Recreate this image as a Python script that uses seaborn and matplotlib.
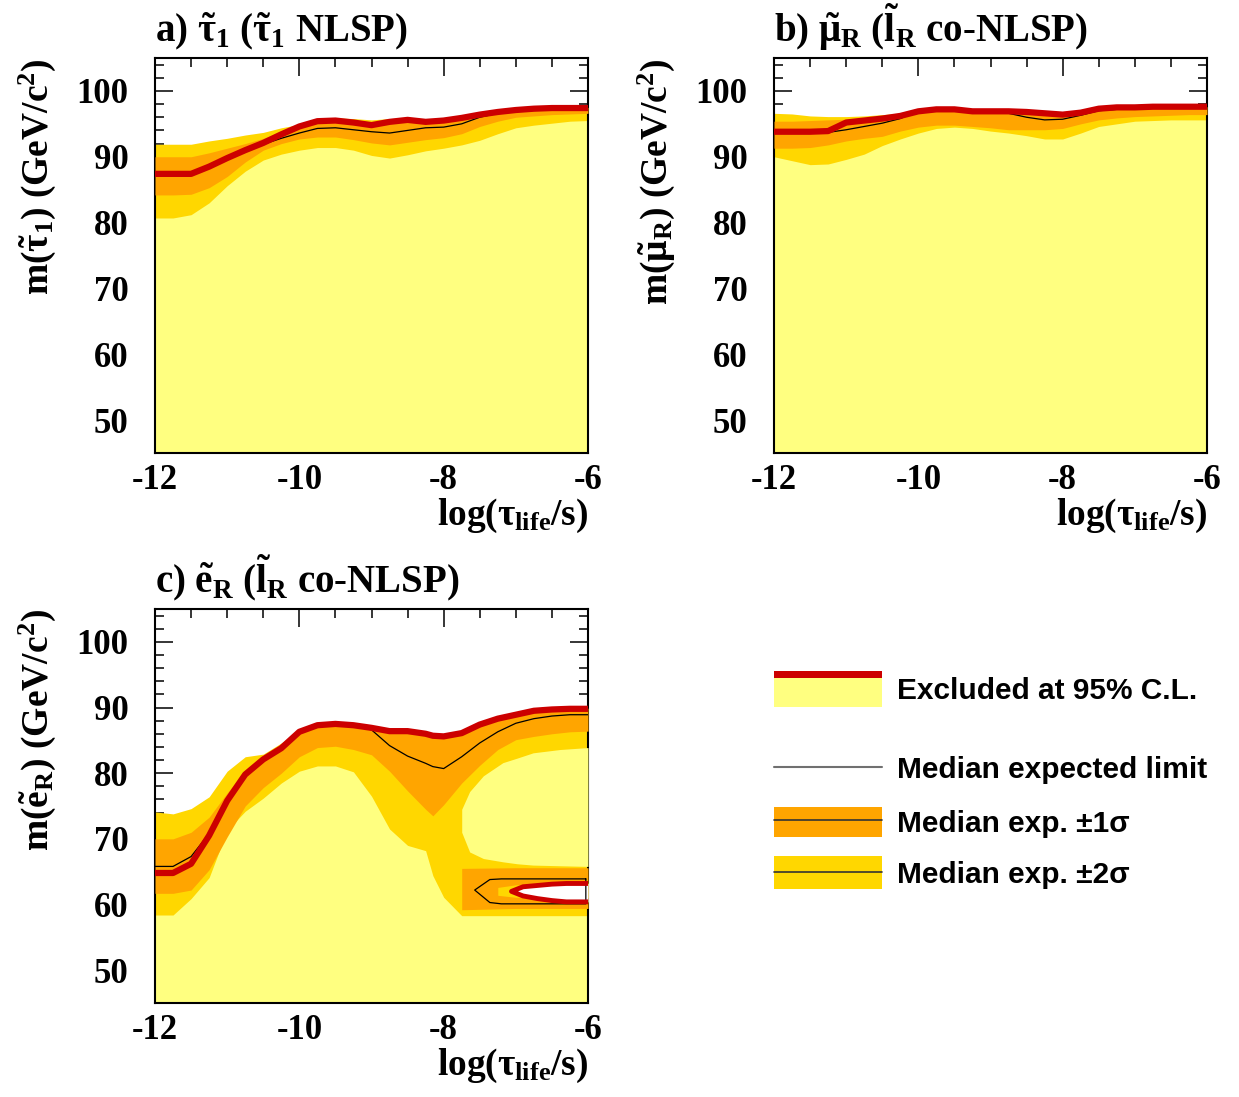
import matplotlib
matplotlib.use("Agg")
import matplotlib.pyplot as plt
from matplotlib.patches import Rectangle
from matplotlib.ticker import MultipleLocator
import seaborn as sns

# ---------------- data ----------------
# common log(tau/s) grid for panels a) and b)
x_ab = [-12, -11.75, -11.5, -11.25, -11, -10.75, -10.5, -10.25, -10, -9.75, -9.5, -9.25,
        -9, -8.75, -8.5, -8.25, -8, -7.75, -7.5, -7.25, -7, -6.75, -6.5, -6.25, -6]

# a) stau
a_obs = [87.4, 87.4, 87.4, 88.5, 89.8, 91.0, 92.1, 93.4, 94.6, 95.4, 95.5, 95.2,
         94.8, 95.3, 95.6, 95.3, 95.5, 95.9, 96.4, 96.8, 97.1, 97.3, 97.4, 97.4, 97.4]
a_med = [87.5, 87.5, 87.6, 88.5, 89.7, 90.9, 91.9, 92.8, 93.6, 94.3, 94.4, 94.1,
         93.8, 93.6, 94.0, 94.4, 94.5, 95.0, 96.0, 96.6, 97.0, 97.2, 97.3, 97.3, 97.3]
a_s1_hi = [90.0, 90.0, 90.0, 90.6, 91.3, 92.0, 92.8, 93.8, 94.8, 95.4, 95.6, 95.4,
           95.1, 95.5, 95.7, 95.5, 95.6, 96.0, 96.5, 96.9, 97.2, 97.4, 97.5, 97.5, 97.5]
a_s1_lo = [84.2, 84.2, 84.3, 85.3, 87.0, 89.2, 91.0, 92.0, 92.7, 93.0, 93.0, 92.6,
           92.1, 91.8, 92.2, 92.6, 92.9, 93.5, 94.6, 95.4, 96.0, 96.2, 96.4, 96.5, 96.6]
a_s2_hi = [91.9, 91.9, 91.9, 92.4, 92.8, 93.3, 93.7, 94.4, 94.9, 95.5, 95.9, 95.8,
           95.6, 95.8, 95.9, 95.7, 95.8, 96.2, 96.6, 97.0, 97.3, 97.5, 97.6, 97.6, 97.6]
a_s2_lo = [80.7, 80.7, 81.2, 83.0, 85.6, 87.8, 89.5, 90.4, 91.0, 91.4, 91.4, 91.0,
           90.2, 89.8, 90.3, 90.9, 91.3, 91.8, 92.5, 93.5, 94.4, 94.8, 95.1, 95.4, 95.5]

# b) smuon
b_obs = [93.8, 93.8, 93.8, 93.9, 95.2, 95.5, 95.8, 96.2, 96.9, 97.2, 97.2, 96.9,
         96.9, 96.9, 96.8, 96.6, 96.4, 96.7, 97.3, 97.5, 97.5, 97.6, 97.6, 97.6, 97.6]
b_med = [93.6, 93.6, 93.6, 93.7, 94.1, 94.6, 95.1, 95.8, 97.0, 97.1, 97.1, 96.9,
         96.8, 96.6, 96.0, 95.6, 95.7, 96.3, 97.0, 97.2, 97.3, 97.4, 97.5, 97.5, 97.5]
b_s1_hi = [95.4, 95.4, 95.5, 95.6, 95.7, 95.8, 96.0, 96.3, 96.9, 97.2, 97.2, 96.9,
           96.9, 96.9, 96.8, 96.6, 96.4, 96.7, 97.3, 97.5, 97.5, 97.6, 97.6, 97.6, 97.6]
b_s1_lo = [91.3, 91.3, 91.4, 91.8, 92.4, 92.8, 93.1, 93.9, 94.5, 94.8, 94.8, 94.6,
           94.4, 94.1, 94.1, 94.1, 94.3, 95.0, 95.6, 95.9, 96.1, 96.2, 96.3, 96.4, 96.4]
b_s2_hi = [96.6, 96.5, 96.2, 96.1, 96.1, 96.2, 96.4, 96.6, 97.0, 97.3, 97.3, 97.1,
           97.0, 97.0, 96.9, 96.8, 96.6, 96.9, 97.4, 97.6, 97.6, 97.7, 97.7, 97.7, 97.7]
b_s2_lo = [90.0, 89.4, 88.8, 88.9, 89.6, 90.4, 91.7, 92.7, 93.6, 94.3, 94.5, 94.3,
           93.9, 93.6, 93.2, 92.7, 92.7, 93.6, 94.6, 95.0, 95.4, 95.5, 95.6, 95.6, 95.6]

# c) selectron
x_c = [-12, -11.75, -11.5, -11.25, -11, -10.75, -10.5, -10.25, -10, -9.75, -9.5, -9.25,
       -9, -8.75, -8.5, -8.25, -8.15, -8, -7.75, -7.5, -7.25, -7, -6.75, -6.5, -6.25, -6]
c_obs = [64.8, 64.8, 66.2, 70.5, 75.8, 79.8, 82.1, 83.8, 86.3, 87.3, 87.5, 87.3,
         86.9, 86.4, 86.4, 86.0, 85.7, 85.6, 86.1, 87.4, 88.3, 88.9, 89.5, 89.7, 89.8, 89.8]
c_med = [65.8, 65.8, 67.3, 70.8, 75.9, 79.8, 82.0, 83.7, 86.2, 87.2, 87.4, 87.2,
         86.6, 84.2, 82.6, 81.5, 81.0, 80.7, 82.5, 84.6, 86.3, 87.6, 88.3, 88.7, 88.9, 88.9]
c_s1_hi = [70.0, 70.0, 71.0, 73.3, 77.0, 80.4, 82.4, 84.1, 86.5, 87.4, 87.6, 87.4,
           87.0, 86.5, 86.5, 86.1, 85.8, 85.7, 86.2, 87.5, 88.4, 89.0, 89.6, 89.8, 89.9, 89.9]
c_s1_lo = [61.7, 61.7, 62.2, 65.3, 70.3, 75.0, 77.8, 80.0, 82.5, 83.9, 84.1, 83.6,
           82.8, 80.3, 77.3, 74.5, 73.5, 75.2, 78.5, 81.2, 83.6, 85.1, 85.6, 86.0, 86.3, 86.4]
c_s2_hi = [74.1, 73.8, 74.6, 76.4, 80.3, 82.5, 82.9, 84.6, 86.5, 87.4, 87.6, 87.4,
           87.0, 86.5, 86.5, 86.1, 85.8, 85.7, 86.2, 87.5, 88.4, 89.0, 89.6, 89.8, 89.9, 89.9]
c_s2_lo = [58.4, 58.4, 60.9, 64.1, 71.3, 74.2, 76.2, 78.5, 80.3, 81.1, 81.1, 80.2,
           76.5, 71.5, 69.0, 68.2, 64.4, 61.1, 58.3, 58.3, 58.3, 58.3, 58.3, 58.3, 58.3, 58.3]

# c) excluded island between the two +-2 sigma branches (long lifetimes)
c_isl_x = [-7.75, -7.64, -7.45, -7.18, -6.98, -6.76, -6.39, -6.0]
c_isl_lo = [71.0, 68.0, 67.0, 66.5, 66.2, 66.0, 65.9, 65.8]
c_isl_hi = [74.5, 77.2, 79.6, 81.6, 82.3, 83.1, 83.6, 83.9]
# c) low-mass +-1 sigma island and inner +-2 sigma core
c_s1i_x = [-7.75, -7.0, -6.0]
c_s1i_lo = [59.2, 59.4, 59.4]
c_s1i_hi = [65.5, 65.6, 65.6]
c_s2i_x = [-7.25, -7.0, -6.0]
c_s2i_lo = [61.4, 61.1, 61.0]
c_s2i_hi = [62.6, 63.0, 63.3]
# c) non-excluded hole (observed contour)
c_hole_x = [-7.06, -6.9, -6.7, -6.5, -6.3, -6.1, -6.0]
c_hole_lo = [62.0, 61.3, 60.9, 60.6, 60.4, 60.4, 60.4]
c_hole_hi = [62.0, 62.7, 62.9, 63.1, 63.2, 63.2, 63.2]
# c) median expected island contour
c_medi_x = [-6.03, -7.2, -7.36, -7.57, -7.36, -7.2, -6.03, -6.03]
c_medi_y = [63.9, 63.9, 63.8, 62.2, 60.3, 60.1, 60.1, 63.9]

titles = [r"a) $\tilde{\tau}_{1}$ ($\tilde{\tau}_{1}$ NLSP)",
          r"b) $\tilde{\mu}_{R}$ ($\tilde{l}_{R}$ co-NLSP)",
          r"c) $\tilde{e}_{R}$ ($\tilde{l}_{R}$ co-NLSP)"]
ylabels = [r"m($\tilde{\tau}_{1}$) (GeV/c$^{2}$)",
           r"m($\tilde{\mu}_{R}$) (GeV/c$^{2}$)",
           r"m($\tilde{e}_{R}$) (GeV/c$^{2}$)"]
xlabel = r"log($\tau_{life}$/s)"
legend_labels = ["Excluded at 95% C.L.", "Median expected limit",
                 "Median exp. \u00b11\u03c3", "Median exp. \u00b12\u03c3"]

# ---------------- style ----------------
PALE = "#ffff80"
GOLD = "#ffd700"
ORANGE = "#ffa500"
RED = "#cc0000"

sns.set_theme(style="ticks")
plt.rcParams['font.family'] = ['Liberation Serif', 'DejaVu Serif']
plt.rcParams['font.weight'] = 'bold'
plt.rcParams['axes.labelweight'] = 'bold'
plt.rcParams['text.color'] = 'black'
plt.rcParams['axes.labelcolor'] = 'black'
plt.rcParams['xtick.color'] = 'black'
plt.rcParams['ytick.color'] = 'black'
plt.rcParams['mathtext.fontset'] = 'custom'
plt.rcParams['mathtext.rm'] = 'Liberation Serif:bold'
plt.rcParams['mathtext.it'] = 'Liberation Serif:bold'
plt.rcParams['mathtext.bf'] = 'Liberation Serif:bold'
plt.rcParams['axes.unicode_minus'] = False

W, H = 1239, 1097
fig = plt.figure(figsize=(W / 100, H / 100), dpi=100)


def px_axes(l, t, r, b):
    return fig.add_axes([l / W, 1 - b / H, (r - l) / W, (b - t) / H])


def style_axes(ax, title, ylabel):
    ax.set_xlim(-12, -6)
    ax.set_ylim(45, 105)
    ax.xaxis.set_major_locator(MultipleLocator(2))
    ax.xaxis.set_minor_locator(MultipleLocator(0.5))
    ax.yaxis.set_major_locator(MultipleLocator(10))
    ax.yaxis.set_minor_locator(MultipleLocator(2))
    ax.tick_params(which='both', direction='in', top=True, right=True, color='black', width=1.1)
    ax.tick_params(which='major', length=13)
    ax.tick_params(which='minor', length=6.5)
    ax.tick_params(axis='y', which='major', labelsize=25, pad=19)
    ax.tick_params(axis='x', which='major', labelsize=25, pad=8)
    for lab in ax.get_xticklabels() + ax.get_yticklabels():
        lab.set_fontweight('bold')
    for s in ax.spines.values():
        s.set_linewidth(1.5)
        s.set_color('black')
    ax.set_xlabel(xlabel, fontsize=27, fontweight='bold', ha='right')
    ax.xaxis.set_label_coords(1.0, -0.112)
    ax.set_ylabel(ylabel, fontsize=27, fontweight='bold', ha='right')
    ax.yaxis.set_label_coords(-0.225, 1.0)
    ax.text(0.0, 1.04, title, transform=ax.transAxes, ha='left', va='baseline',
            fontsize=28, fontweight='bold')
    ax.set_facecolor('white')


def draw_bands(ax, x, obs, s1_lo, s1_hi, s2_lo, s2_hi):
    ax.fill_between(x, 45, obs, color=PALE, lw=0, zorder=1)
    ax.fill_between(x, s2_lo, s2_hi, color=GOLD, lw=0, zorder=2)
    ax.fill_between(x, s1_lo, s1_hi, color=ORANGE, lw=0, zorder=3)


ax_a = px_axes(155, 58, 588, 453)
ax_b = px_axes(774, 58, 1207, 453)
ax_c = px_axes(155, 609, 588, 1003)

# a)
draw_bands(ax_a, x_ab, a_obs, a_s1_lo, a_s1_hi, a_s2_lo, a_s2_hi)
sns.lineplot(x=x_ab, y=a_med, ax=ax_a, color='black', lw=0.9, sort=False, estimator=None, zorder=5)
sns.lineplot(x=x_ab, y=a_obs, ax=ax_a, color=RED, lw=4.5, sort=False, estimator=None, zorder=6)

# b)
draw_bands(ax_b, x_ab, b_obs, b_s1_lo, b_s1_hi, b_s2_lo, b_s2_hi)
sns.lineplot(x=x_ab, y=b_med, ax=ax_b, color='black', lw=0.9, sort=False, estimator=None, zorder=5)
sns.lineplot(x=x_ab, y=b_obs, ax=ax_b, color=RED, lw=4.5, sort=False, estimator=None, zorder=6)

# c)
draw_bands(ax_c, x_c, c_obs, c_s1_lo, c_s1_hi, c_s2_lo, c_s2_hi)
ax_c.fill_between(c_isl_x, c_isl_lo, c_isl_hi, color=PALE, lw=0, zorder=3.1)
ax_c.fill_between(c_s1i_x, c_s1i_lo, c_s1i_hi, color=ORANGE, lw=0, zorder=3.2)
ax_c.fill_between(c_s2i_x, c_s2i_lo, c_s2i_hi, color=GOLD, lw=0, zorder=3.3)
ax_c.fill_between(c_hole_x, c_hole_lo, c_hole_hi, color='white', lw=0, zorder=3.4)
sns.lineplot(x=x_c, y=c_med, ax=ax_c, color='black', lw=0.9, sort=False, estimator=None, zorder=5)
sns.lineplot(x=c_medi_x, y=c_medi_y, ax=ax_c, color='black', lw=0.9, sort=False, estimator=None, zorder=5)
sns.lineplot(x=x_c, y=c_obs, ax=ax_c, color=RED, lw=4.5, sort=False, estimator=None, zorder=6)
hole_path_x = c_hole_x[::-1] + c_hole_x[1:]
hole_path_y = c_hole_hi[::-1] + c_hole_lo[1:]
sns.lineplot(x=hole_path_x, y=hole_path_y, ax=ax_c, color=RED, lw=3.5, sort=False, estimator=None, zorder=6)

for ax, t, yl in zip([ax_a, ax_b, ax_c], titles, ylabels):
    style_axes(ax, t, yl)

# ---------------- legend ----------------
lg = fig.add_axes([0, 0, 1, 1], zorder=-1)
lg.set_xlim(0, W)
lg.set_ylim(H, 0)
lg.axis('off')
lg.add_patch(Rectangle((774, 678), 108, 29, color=PALE, lw=0))
lg.add_patch(Rectangle((774, 671), 108, 7, color=RED, lw=0))
lg.plot([774, 882], [767, 767], color='#707070', lw=1.5)
lg.add_patch(Rectangle((774, 807), 108, 30, color=ORANGE, lw=0))
lg.plot([774, 882], [820, 820], color='#333333', lw=1.2)
lg.add_patch(Rectangle((774, 856), 108, 33, color=GOLD, lw=0))
lg.plot([774, 882], [872, 872], color='#333333', lw=1.2)
for lab, yb in zip(legend_labels, [699, 778, 832, 883]):
    lg.text(897, yb, lab, fontsize=21.5, fontweight='bold', family=['Liberation Sans', 'DejaVu Sans'],
            ha='left', va='baseline')

fig.savefig("out.png", dpi=100, facecolor='white')
